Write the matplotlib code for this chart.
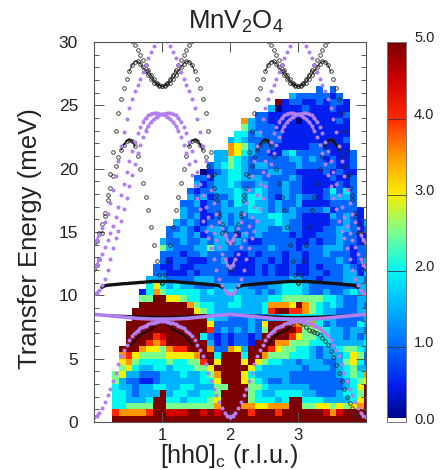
import numpy as np
import matplotlib
matplotlib.use("Agg")
import matplotlib.pyplot as plt
from matplotlib.colors import LinearSegmentedColormap

plt.rcParams['font.family'] = ['Liberation Sans', 'DejaVu Sans']
plt.rcParams['mathtext.fontset'] = 'custom'
plt.rcParams['mathtext.rm'] = 'Liberation Sans'
plt.rcParams['mathtext.default'] = 'regular'

# intensity map, top row = 26-26.5 meV, bottom row = 0-0.5 meV; digit d = d*0.5, X = 5
HEAT_ROWS = [
 ".......... .......... .......... 2.2.....",
 ".......... .......... ......3222 2212....",
 ".......... .......... ....X12211 21221...",
 ".......... .......... ...3011121 11211...",
 ".......... .......... .221111111 11112...",
 ".......... .........7 3221111011 11121...",
 ".......... .........5 3222111111 11111...",
 ".......... ........44 2322211111 11111...",
 ".......... .......343 2222211111 11112...",
 ".......... .......765 3222111112 21111...",
 ".......... .....33764 3221134222 221112..",
 ".......... .....33543 2222223323 212112..",
 ".......... ....234543 2332222322 222112..",
 ".......... ...0123443 2223322111 121211..",
 ".......... ..22133443 3322223211 112112..",
 ".......... ..31233432 2332232211 111212..",
 ".......... .212233343 3432232211 124242..",
 ".......... .323122343 4432132322 123332..",
 ".......... 2231223243 4332322311 112222..",
 ".......... 3221223333 4432323222 2312221.",
 ".......... 3231123232 3334433211 1132321.",
 ".........3 2321223232 2333432211 11223213",
 "........22 3212332322 2332232211 12233212",
 "........23 3231233213 2322221211 22232211",
 ".......322 3223233232 1122222112 12232212",
 ".......532 2233533222 2223222122 23332122",
 ".......222 1223222211 2122212212 23222122",
 ".......212 2111223111 1221212212 22232123",
 "......2112 1122222211 1212112112 12223212",
 "......2211 1212222111 1212112112 21223313",
 ".....33322 2233322222 2222223322 12223332",
 ".....46434 3322233333 2223344432 22222233",
 "....147544 4443433433 3232344432 23223433",
 "....55XX66 5443333343 3334455555 54432233",
 "....XXXXXX X754433443 3347776X75 43432232",
 "...XXXXXXX XX65433333 3348XX8875 43322233",
 "...XXXXXXX XXXX433222 3223344444 43322223",
 "..XXXXXXXX XXXX622222 326XXX8757 42322243",
 "..XXXXXXXX XXXX823232 325XXXX855 54332332",
 "..XXXX89XX XXX4212122 12XXXX8655 44332323",
 "..XXX878XX XXXX312122 1XXX775554 44333334",
 ".XXX766578 8XXX722763 XXX8655443 23345543",
 ".786555566 667XX4XXX4 XX75554443 23334652",
 ".675444454 4558X6XXX6 X654433233 32235642",
 ".564334434 44556XXXXX 6433333323 33234533",
 "5633222333 433457XXX6 4333332222 22234547",
 "5322112333 333446XXX6 5432232222 22223456",
 "4332334433 4433355XXX 5543333332 2222346X",
 "4432333X34 433445XXXX 5433444433 2223445X",
 "443334XX44 344456XXXX 544434XX44 4333346X",
 "445555XX55 555557XXX7 766777XX55 6656567X",
 "877778XX99 9XX9X9XXXX 8XXX8XXXXX X979XXXX",
 "XXXXXXXXXX XXXXXXXXXX XXXXXXXXXX XXXXXXXX",
]

# dispersion branches, offset s from zone centre (x = 1 or x = 3)
S_FULL = np.arange(-25, 26) * 0.04
S_HALF = np.arange(0, 26) * 0.04
PURPLE_MID = [10.1,10.2,10.4,10.8,11.3,12.0,12.9,13.7,14.5,15.1,15.9,16.8,17.7,18.6,19.5,20.4,21.2,21.9,22.5,23.0,23.4,23.7,23.9,24.1,24.2,
              24.3,24.35,24.4,24.4,24.35,24.2,24.0,23.7,23.3,22.8,22.1,21.4,20.6,19.7,18.8,17.9,17.0,16.2,15.5,14.9,14.4,13.8,13.3,12.9,12.4,12.2]
PURPLE_TOP = [30.6,30.5,30.1,29.7,29.2,28.7,28.2,27.6,27.1,26.6,26.1,25.5,24.8,23.9,22.9,21.8,20.6,19.4,18.3,17.3,16.4,15.8,15.3,14.8,14.4,14.1]
PURPLE_LOW = [8.0,7.98,7.9,7.85,7.8,7.7,7.6,7.5,7.4,7.2,7.0,6.8,6.5,6.1,5.7,5.2,4.6,3.9,3.2,2.6,2.1,1.6,1.1,0.75,0.5,0.4]
PURPLE_FLAT = [8.12,8.12,8.12,8.13,8.13,8.14,8.15,8.16,8.17,8.18,8.2,8.22,8.24,8.26,8.28,8.3,8.32,8.34,8.36,8.38,8.4,8.42,8.44,8.46,8.48,8.5]

S_UP = np.arange(-25, 13) * 0.04
BLACK_UP = [12.1,12.4,12.9,14.9,16.3,17.9,19.6,21.3,23.0,24.4,25.5,26.4,27.1,27.7,28.2,28.45,28.5,28.3,28.0,27.7,27.4,27.1,26.8,26.65,26.55,26.5,
            26.6,26.8,27.05,27.4,27.8,28.2,28.6,29.0,29.4,29.75,30.1,30.5]
S_HUMP = np.arange(-25, 1) * 0.04
BLACK_HUMP = [14.1,14.3,14.9,15.6,16.5,17.5,18.5,19.4,20.2,20.9,21.5,21.9,22.2,22.3,22.2,21.8,21.0,20.0,18.9,17.8,16.7,15.4,14.0,12.7,11.6,11.0]
S_BAND = np.arange(0, 23) * 0.04
BLACK_BAND_HI = [11.1,11.1,11.1,11.1,11.08,11.07,11.05,11.03,11.02,11.0,10.98,10.97,10.95,10.93,10.92,10.9,10.88,10.86,10.84,10.82,10.8,10.75,10.65]
BLACK_BAND_LO = [8.3,8.3,8.3,8.31,8.31,8.32,8.32,8.33,8.34,8.35,8.35,8.36,8.37,8.38,8.39,8.4,8.4,8.41,8.42,8.42,8.43,8.44,8.45]
BLACK_LOW = [8.0,7.85,7.7,7.5,7.3,7.2,7.1,7.0,6.85,6.65,6.4,6.1,5.6,5.1,4.5,3.9,3.2,2.6,2.0,1.5,1.1,0.6,0.4]

CB_TICKS = [0.0, 1.0, 2.0, 3.0, 4.0, 5.0]
X_TICKS = [1, 2, 3]
Y_TICKS = [0, 5, 10, 15, 20, 25, 30]

W, H = 443, 470
fig = plt.figure(figsize=(W/100, H/100), dpi=100, facecolor='white')
ax = fig.add_axes([94/W, 1-422/H, 272/W, 380/H])

cmap = LinearSegmentedColormap.from_list('cb', [
    (0.0, '#00007a'), (0.1, '#0020f0'), (0.2, '#0068ff'), (0.3, '#00b4ff'), (0.4, '#00f8f0'),
    (0.5, '#78ff90'), (0.6, '#f8ee00'), (0.7, '#ff9800'), (0.8, '#ff2800'), (0.9, '#d00000'), (1.0, '#7c0000')])

lv = {'X': 5.0, '.': np.nan}
rows = [r.replace(' ', '') for r in HEAT_ROWS]
Z = np.array([[lv[c] if c in lv else int(c)*0.5 for c in r] for r in rows])[::-1]
xe = -0.035 + 0.1*np.arange(3, 3+Z.shape[1]+1)
ye = 0.5*np.arange(Z.shape[0]+1)
ax.pcolormesh(xe, ye, np.ma.masked_invalid(Z), cmap=cmap, vmin=0, vmax=5, zorder=1)

PURPLE = '#b27ff0'
DARK = '#2a2a2a'
def purple(x, y):
    ax.plot(x, y, ls='none', marker='o', ms=2.9, mfc=PURPLE, mec=PURPLE, mew=0, zorder=4)
def pline(x, y, lw):
    ax.plot(x, y, ls='-', lw=lw, color=PURPLE, zorder=4, solid_capstyle='round')
def black(x, y):
    ax.plot(x, y, ls='none', marker='o', ms=2.6, mfc='none', mec=DARK, mew=0.6, zorder=3)
def bline(x, y, lw):
    ax.plot(x, y, ls='-', lw=lw, color='#111111', zorder=3)

for c in (1, 3):
    for sign in (1, -1):
        xm = c+sign*S_FULL
        xh = c+sign*S_HALF
        purple(xm, PURPLE_MID)
        pline(xm[19:33], PURPLE_MID[19:33], 1.7)
        pline(xm[:3], PURPLE_MID[:3], 1.6)
        pline(xm[48:], PURPLE_MID[48:], 1.6)
        purple(xh, PURPLE_TOP)
        pline(xh[23:], PURPLE_TOP[23:], 1.6)
        purple(xh, PURPLE_LOW)
        pline(xh[:12], PURPLE_LOW[:12], 2.0)
        pline(xh[23:], PURPLE_LOW[23:], 1.6)
        pline(xh, PURPLE_FLAT, 2.6)
        xu = c+sign*S_UP
        black(xu, BLACK_UP)
        bline(xu[13:31], BLACK_UP[13:31], 0.6)
        xk = c+sign*S_HUMP
        black(xk, BLACK_HUMP)
        bline(xk[10:16], BLACK_HUMP[10:16], 1.1)
        xb = c+sign*S_BAND
        bline(xb, BLACK_BAND_HI, 2.4)
        bline(xb, BLACK_BAND_LO, 1.4)
# low black branch: short near both peaks, complete only right of x = 3
n = 12
bline(1+S_BAND[:n], BLACK_LOW[:n], 1.3)
bline(1-S_BAND[:n], BLACK_LOW[:n], 1.3)
bline(3-S_BAND[:n], BLACK_LOW[:n], 1.3)
black(3+S_BAND, BLACK_LOW)

ax.set_xlim(0, 4)
ax.set_ylim(0, 30)
ax.set_xticks(X_TICKS)
ax.set_yticks(Y_TICKS)
ax.set_yticks(np.arange(0, 31), minor=True)
ax.tick_params(which='major', direction='in', length=7.5, width=0.7, color='#555555', top=True, right=True,
               labelcolor='#222222')
ax.tick_params(which='major', axis='y', labelsize=12.5, pad=11.5)
ax.tick_params(which='major', axis='x', labelsize=12, pad=4.5)
ax.tick_params(which='minor', axis='y', direction='in', length=3.6, width=0.7, color='#555555', left=True, right=True)
for s in ax.spines.values():
    s.set_color('#555555')
    s.set_linewidth(0.8)
    s.set_zorder(6)
fig.text(30/W, 1-238.5/H, 'Transfer Energy (meV)', fontsize=18.5, rotation=90, ha='center', va='center', color='#222222')
fig.text(229.5/W, 1-463/H, '[hh0]$_c$ (r.l.u.)', fontsize=18, ha='center', va='baseline', color='#222222')
fig.text(235.5/W, 1-22/H, 'MnV$_2$O$_4$', fontsize=18.5, ha='center', va='center', color='#222222')

cax = fig.add_axes([387/W, 1-422/H, 19/W, 379.5/H])
levels = np.linspace(0.07, 5, 256)
cax.pcolormesh([0, 1], np.r_[levels, 5.0], levels[:, None], cmap=cmap, vmin=0, vmax=5)
cax.set_xlim(0, 1)
cax.set_ylim(0.02, 5)
cax.set_xticks([])
cax.set_yticks([])
for v in CB_TICKS[1:-1]:
    cax.axhline(v, color='#333333', lw=0.7, alpha=0.8)
for s in cax.spines.values():
    s.set_color('#777777')
    s.set_linewidth(0.7)
for v in CB_TICKS:
    cax.annotate(f'{v:.1f}', xy=(1, v), xycoords=('axes fraction', 'data'), xytext=(8, 4),
                 textcoords='offset pixels', fontsize=10.5, va='center', ha='left', color='#222222', annotation_clip=False)

fig.savefig('out.png', dpi=100)
